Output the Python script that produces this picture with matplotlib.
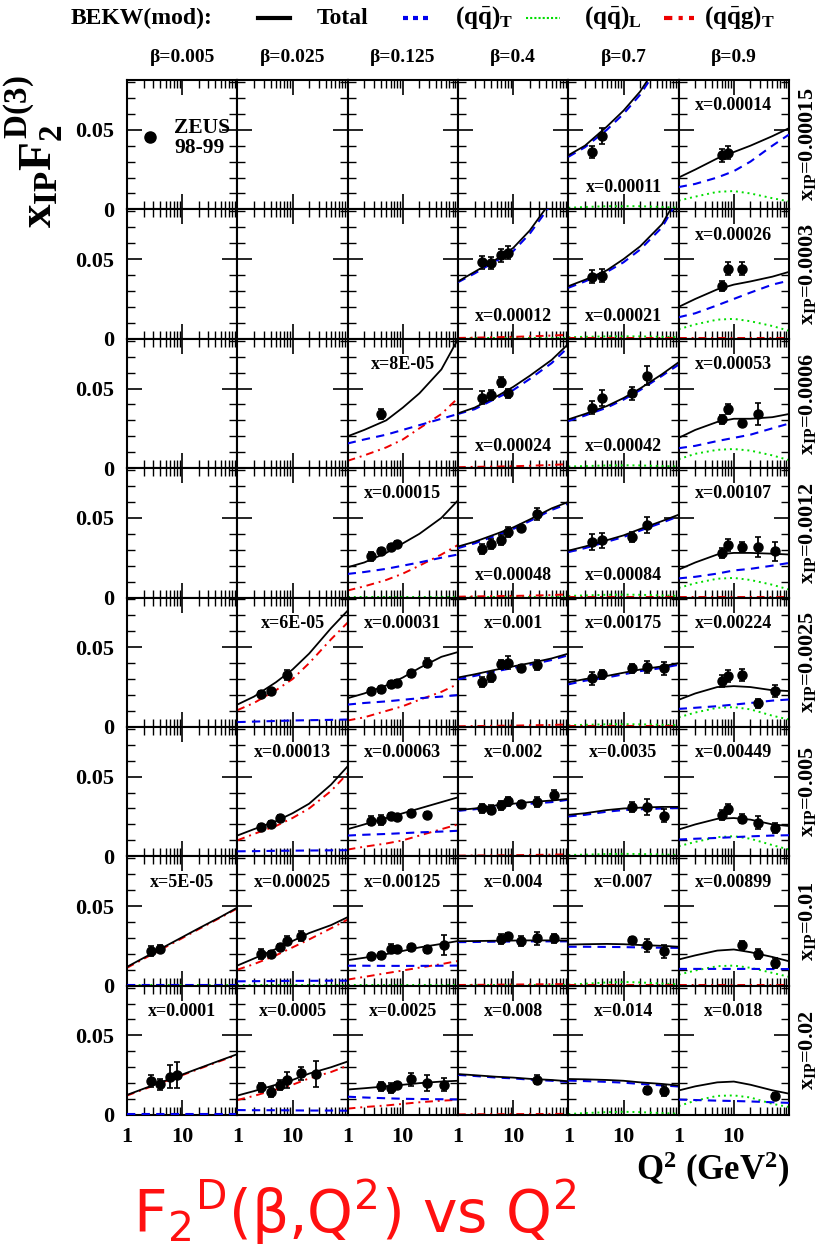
import matplotlib
matplotlib.use('Agg')
import matplotlib.pyplot as plt
from matplotlib.lines import Line2D
from matplotlib.ticker import FixedLocator, MultipleLocator, LogLocator, NullFormatter, FuncFormatter

plt.rcParams['font.family'] = ['Liberation Serif', 'DejaVu Serif']
plt.rcParams['font.weight'] = 'normal'
plt.rcParams['mathtext.fontset'] = 'custom'
plt.rcParams['mathtext.rm'] = 'Liberation Serif:bold'
plt.rcParams['mathtext.it'] = 'Liberation Serif:bold'
plt.rcParams['mathtext.bf'] = 'Liberation Serif:bold'

# ---------------- data ----------------
BETAS = ['0.005', '0.025', '0.125', '0.4', '0.7', '0.9']
XIP = ['0.00015', '0.0003', '0.0006', '0.0012', '0.0025', '0.005', '0.01', '0.02']
Q2_NODES = [1, 2, 5, 10, 20, 50, 100]

TOTAL = {
    (0, 4): [0.034, 0.040, 0.052, 0.062, 0.074, 0.095, 0.120],
    (0, 5): [0.020, 0.025, 0.032, 0.036, 0.040, 0.046, 0.051],
    (1, 3): [0.036, 0.042, 0.050, 0.057, 0.068, 0.087, 0.105],
    (1, 4): [0.033, 0.037, 0.043, 0.050, 0.058, 0.072, 0.090],
    (1, 5): [0.020, 0.025, 0.031, 0.034, 0.036, 0.039, 0.042],
    (2, 2): [0.020, 0.024, 0.030, 0.038, 0.047, 0.062, 0.081],
    (2, 3): [0.0344, 0.038, 0.045, 0.051, 0.058, 0.068, 0.078],
    (2, 4): [0.0306, 0.034, 0.039, 0.044, 0.050, 0.059, 0.0665],
    (2, 5): [0.019, 0.024, 0.029, 0.031, 0.031, 0.032, 0.034],
    (3, 2): [0.019, 0.022, 0.028, 0.034, 0.040, 0.050, 0.061],
    (3, 3): [0.032, 0.035, 0.040, 0.044, 0.049, 0.056, 0.060],
    (3, 4): [0.0294, 0.032, 0.036, 0.039, 0.043, 0.048, 0.052],
    (3, 5): [0.0175, 0.022, 0.027, 0.028, 0.028, 0.0275, 0.027],
    (4, 1): [0.014, 0.019, 0.028, 0.036, 0.046, 0.062, 0.073],
    (4, 2): [0.018, 0.021, 0.026, 0.031, 0.037, 0.044, 0.047],
    (4, 3): [0.031, 0.033, 0.036, 0.038, 0.040, 0.043, 0.046],
    (4, 4): [0.028, 0.030, 0.032, 0.034, 0.036, 0.038, 0.040],
    (4, 5): [0.017, 0.021, 0.025, 0.0256, 0.025, 0.023, 0.0225],
    (5, 1): [0.013, 0.017, 0.022, 0.027, 0.033, 0.045, 0.0565],
    (5, 2): [0.017, 0.020, 0.024, 0.027, 0.030, 0.034, 0.037],
    (5, 3): [0.029, 0.030, 0.032, 0.033, 0.034, 0.035, 0.036],
    (5, 4): [0.026, 0.027, 0.029, 0.030, 0.0305, 0.031, 0.031],
    (5, 5): [0.0168, 0.020, 0.0235, 0.024, 0.023, 0.020, 0.019],
    (6, 0): [0.0118, 0.0174, 0.0248, 0.0304, 0.036, 0.0432, 0.049],
    (6, 1): [0.0126, 0.017, 0.023, 0.028, 0.033, 0.038, 0.043],
    (6, 2): [0.016, 0.0175, 0.0198, 0.0218, 0.024, 0.0262, 0.028],
    (6, 3): [0.0279, 0.028, 0.0282, 0.0283, 0.0284, 0.0284, 0.0283],
    (6, 4): [0.0258, 0.026, 0.0262, 0.026, 0.0255, 0.025, 0.0244],
    (6, 5): [0.0164, 0.019, 0.022, 0.0227, 0.021, 0.018, 0.0153],
    (7, 0): [0.0126, 0.0165, 0.0216, 0.0254, 0.0293, 0.0344, 0.0382],
    (7, 1): [0.0122, 0.015, 0.019, 0.022, 0.026, 0.030, 0.0336],
    (7, 2): [0.016, 0.0168, 0.018, 0.019, 0.020, 0.021, 0.0215],
    (7, 3): [0.0257, 0.025, 0.024, 0.0235, 0.0227, 0.022, 0.0212],
    (7, 4): [0.0226, 0.0224, 0.022, 0.0215, 0.0205, 0.0195, 0.0185],
    (7, 5): [0.0154, 0.018, 0.0205, 0.021, 0.019, 0.0155, 0.0134],
}

QQ_T = {
    (0, 4): [0.033, 0.039, 0.050, 0.060, 0.072, 0.093, 0.117],
    (0, 5): [0.014, 0.016, 0.020, 0.024, 0.030, 0.040, 0.047],
    (1, 3): [0.0355, 0.041, 0.049, 0.055, 0.066, 0.085, 0.102],
    (1, 4): [0.032, 0.036, 0.042, 0.048, 0.056, 0.070, 0.088],
    (1, 5): [0.0135, 0.016, 0.021, 0.025, 0.029, 0.034, 0.0365],
    (2, 2): [0.0155, 0.018, 0.021, 0.024, 0.027, 0.031, 0.034],
    (2, 3): [0.034, 0.037, 0.044, 0.049, 0.056, 0.066, 0.076],
    (2, 4): [0.0296, 0.033, 0.038, 0.043, 0.049, 0.058, 0.065],
    (2, 5): [0.0125, 0.014, 0.017, 0.019, 0.021, 0.025, 0.028],
    (3, 2): [0.0148, 0.016, 0.018, 0.020, 0.022, 0.025, 0.027],
    (3, 3): [0.031, 0.034, 0.039, 0.043, 0.048, 0.055, 0.059],
    (3, 4): [0.0285, 0.031, 0.035, 0.038, 0.042, 0.047, 0.051],
    (3, 5): [0.012, 0.013, 0.015, 0.017, 0.018, 0.020, 0.0217],
    (4, 1): [0.003, 0.0033, 0.0037, 0.004, 0.0042, 0.0044, 0.0046],
    (4, 2): [0.014, 0.015, 0.016, 0.017, 0.018, 0.019, 0.020],
    (4, 3): [0.030, 0.032, 0.035, 0.037, 0.039, 0.042, 0.045],
    (4, 4): [0.0267, 0.029, 0.031, 0.033, 0.035, 0.037, 0.039],
    (4, 5): [0.0113, 0.012, 0.013, 0.014, 0.015, 0.0165, 0.0172],
    (5, 1): [0.0031, 0.0032, 0.0034, 0.0035, 0.0036, 0.0037, 0.0038],
    (5, 2): [0.013, 0.0135, 0.014, 0.0145, 0.015, 0.0155, 0.016],
    (5, 3): [0.0285, 0.0295, 0.031, 0.032, 0.033, 0.034, 0.0355],
    (5, 4): [0.025, 0.026, 0.028, 0.029, 0.0295, 0.030, 0.0304],
    (5, 5): [0.0105, 0.011, 0.0115, 0.012, 0.0125, 0.013, 0.0132],
    (6, 0): [0.0007, 0.0007, 0.0007, 0.0007, 0.0007, 0.0007, 0.0007],
    (6, 1): [0.0027, 0.0028, 0.0029, 0.003, 0.003, 0.0031, 0.0031],
    (6, 2): [0.0125, 0.0125, 0.0124, 0.0124, 0.0124, 0.0125, 0.0126],
    (6, 3): [0.0273, 0.0274, 0.0276, 0.0277, 0.0278, 0.0278, 0.0278],
    (6, 4): [0.0244, 0.0244, 0.0243, 0.0242, 0.0240, 0.0238, 0.0237],
    (6, 5): [0.0105, 0.0105, 0.0105, 0.0105, 0.0105, 0.0104, 0.0104],
    (7, 0): [0.0006, 0.0006, 0.0006, 0.0006, 0.0006, 0.0006, 0.0006],
    (7, 1): [0.0031, 0.003, 0.003, 0.0029, 0.0028, 0.0028, 0.0027],
    (7, 2): [0.0115, 0.011, 0.0105, 0.0102, 0.010, 0.0099, 0.0098],
    (7, 3): [0.0252, 0.0245, 0.0235, 0.023, 0.0222, 0.0215, 0.0207],
    (7, 4): [0.0216, 0.0213, 0.0208, 0.0203, 0.0195, 0.0186, 0.0179],
    (7, 5): [0.0097, 0.0094, 0.009, 0.0088, 0.0085, 0.008, 0.0076],
}

QQ_L = {
    (0, 4): [0.001, 0.0015, 0.002, 0.002, 0.002, 0.0015, 0.001],
    (0, 5): [0.0055, 0.008, 0.011, 0.0115, 0.010, 0.007, 0.005],
    (1, 3): [0.0002, 0.0002, 0.0002, 0.0002, 0.0002, 0.0002, 0.0002],
    (1, 4): [0.001, 0.0012, 0.0015, 0.0015, 0.0015, 0.0012, 0.001],
    (1, 5): [0.006, 0.009, 0.012, 0.0125, 0.011, 0.008, 0.005],
    (2, 2): [0.0002, 0.0002, 0.0002, 0.0002, 0.0002, 0.0002, 0.0002],
    (2, 3): [0.0002, 0.0002, 0.0002, 0.0002, 0.0002, 0.0002, 0.0002],
    (2, 4): [0.001, 0.0013, 0.0017, 0.0018, 0.0017, 0.0013, 0.001],
    (2, 5): [0.0056, 0.009, 0.0115, 0.012, 0.011, 0.008, 0.005],
    (3, 2): [0.0002, 0.0002, 0.0002, 0.0002, 0.0002, 0.0002, 0.0002],
    (3, 3): [0.0002, 0.0002, 0.0002, 0.0002, 0.0002, 0.0002, 0.0002],
    (3, 4): [0.001, 0.0013, 0.0017, 0.0018, 0.0017, 0.0013, 0.001],
    (3, 5): [0.006, 0.009, 0.0118, 0.0123, 0.011, 0.008, 0.005],
    (4, 1): [0.0002, 0.0002, 0.0002, 0.0002, 0.0002, 0.0002, 0.0002],
    (4, 2): [0.0002, 0.0002, 0.0002, 0.0002, 0.0002, 0.0002, 0.0002],
    (4, 3): [0.0002, 0.0002, 0.0002, 0.0002, 0.0002, 0.0002, 0.0002],
    (4, 4): [0.001, 0.0013, 0.0016, 0.0017, 0.0016, 0.0013, 0.001],
    (4, 5): [0.006, 0.009, 0.012, 0.0124, 0.011, 0.007, 0.0046],
    (5, 1): [0.0002, 0.0002, 0.0002, 0.0002, 0.0002, 0.0002, 0.0002],
    (5, 2): [0.0002, 0.0002, 0.0002, 0.0002, 0.0002, 0.0002, 0.0002],
    (5, 3): [0.0002, 0.0002, 0.0002, 0.0002, 0.0002, 0.0002, 0.0002],
    (5, 4): [0.0008, 0.001, 0.0014, 0.0015, 0.0014, 0.0011, 0.0008],
    (5, 5): [0.0063, 0.009, 0.012, 0.0126, 0.011, 0.007, 0.0042],
    (6, 0): [0.0002, 0.0002, 0.0002, 0.0002, 0.0002, 0.0002, 0.0002],
    (6, 1): [0.0002, 0.0002, 0.0002, 0.0002, 0.0002, 0.0002, 0.0002],
    (6, 2): [0.0002, 0.0002, 0.0002, 0.0002, 0.0002, 0.0002, 0.0002],
    (6, 3): [0.0002, 0.0002, 0.0002, 0.0002, 0.0002, 0.0002, 0.0002],
    (6, 4): [0.0006, 0.0012, 0.002, 0.0023, 0.002, 0.0013, 0.0008],
    (6, 5): [0.0069, 0.0095, 0.0122, 0.0126, 0.0112, 0.008, 0.0055],
    (7, 0): [0.0002, 0.0002, 0.0002, 0.0002, 0.0002, 0.0002, 0.0002],
    (7, 1): [0.0002, 0.0002, 0.0002, 0.0002, 0.0002, 0.0002, 0.0002],
    (7, 2): [0.0002, 0.0002, 0.0002, 0.0002, 0.0002, 0.0002, 0.0002],
    (7, 3): [0.0002, 0.0002, 0.0002, 0.0002, 0.0002, 0.0002, 0.0002],
    (7, 4): [0.0006, 0.0012, 0.0018, 0.002, 0.0018, 0.0012, 0.0008],
    (7, 5): [0.0056, 0.009, 0.012, 0.0123, 0.011, 0.007, 0.005],
}

QQG_T = {
    (0, 4): [0.0003, 0.0003, 0.0003, 0.0003, 0.0003, 0.0003, 0.0003],
    (0, 5): [0.0002, 0.0002, 0.0002, 0.0002, 0.0002, 0.0002, 0.0002],
    (1, 3): [0.0005, 0.0007, 0.001, 0.0012, 0.0015, 0.002, 0.0025],
    (1, 4): [0.0003, 0.0003, 0.0003, 0.0003, 0.0003, 0.0003, 0.0003],
    (1, 5): [0.0002, 0.0002, 0.0002, 0.0002, 0.0002, 0.0002, 0.0002],
    (2, 2): [0.0046, 0.008, 0.013, 0.018, 0.025, 0.034, 0.044],
    (2, 3): [0.0006, 0.0008, 0.001, 0.0012, 0.0015, 0.002, 0.0025],
    (2, 4): [0.0003, 0.0003, 0.0003, 0.0003, 0.0003, 0.0003, 0.0003],
    (2, 5): [0.0002, 0.0002, 0.0002, 0.0002, 0.0002, 0.0002, 0.0002],
    (3, 2): [0.0044, 0.007, 0.011, 0.015, 0.020, 0.027, 0.033],
    (3, 3): [0.0005, 0.0007, 0.0009, 0.001, 0.0012, 0.0015, 0.002],
    (3, 4): [0.0003, 0.0003, 0.0003, 0.0003, 0.0003, 0.0003, 0.0003],
    (3, 5): [0.0002, 0.0002, 0.0002, 0.0002, 0.0002, 0.0002, 0.0002],
    (4, 1): [0.0105, 0.015, 0.023, 0.030, 0.040, 0.055, 0.0655],
    (4, 2): [0.004, 0.006, 0.010, 0.013, 0.017, 0.022, 0.027],
    (4, 3): [0.0004, 0.0005, 0.0007, 0.0008, 0.001, 0.0012, 0.0015],
    (4, 4): [0.0003, 0.0003, 0.0003, 0.0003, 0.0003, 0.0003, 0.0003],
    (4, 5): [0.0002, 0.0002, 0.0002, 0.0002, 0.0002, 0.0002, 0.0002],
    (5, 1): [0.010, 0.014, 0.019, 0.024, 0.030, 0.041, 0.052],
    (5, 2): [0.0042, 0.006, 0.008, 0.010, 0.013, 0.017, 0.020],
    (5, 3): [0.0004, 0.0005, 0.0006, 0.0007, 0.0008, 0.001, 0.0012],
    (5, 4): [0.0003, 0.0003, 0.0003, 0.0003, 0.0003, 0.0003, 0.0003],
    (5, 5): [0.0002, 0.0002, 0.0002, 0.0002, 0.0002, 0.0002, 0.0002],
    (6, 0): [0.0112, 0.0168, 0.0242, 0.0298, 0.0355, 0.0428, 0.0485],
    (6, 1): [0.010, 0.0135, 0.019, 0.024, 0.029, 0.036, 0.0415],
    (6, 2): [0.0038, 0.0055, 0.0078, 0.0095, 0.0113, 0.0135, 0.0155],
    (6, 3): [0.0004, 0.0005, 0.0006, 0.0007, 0.0008, 0.0009, 0.001],
    (6, 4): [0.0003, 0.0003, 0.0003, 0.0003, 0.0003, 0.0003, 0.0003],
    (6, 5): [0.0002, 0.0002, 0.0002, 0.0002, 0.0002, 0.0002, 0.0002],
    (7, 0): [0.0122, 0.0161, 0.0212, 0.025, 0.0289, 0.034, 0.0378],
    (7, 1): [0.0094, 0.012, 0.016, 0.019, 0.023, 0.027, 0.031],
    (7, 2): [0.004, 0.005, 0.006, 0.007, 0.008, 0.009, 0.0095],
    (7, 3): [0.0004, 0.0005, 0.0005, 0.0006, 0.0006, 0.0007, 0.0007],
    (7, 4): [0.0003, 0.0003, 0.0003, 0.0003, 0.0003, 0.0003, 0.0003],
    (7, 5): [0.0002, 0.0002, 0.0002, 0.0002, 0.0002, 0.0002, 0.0002],
}

DATA_Q2 = {
    (0, 4): [2.7, 4], (0, 5): [6, 8],
    (1, 3): [2.7, 4, 6, 8], (1, 4): [2.7, 4], (1, 5): [6, 8, 14],
    (2, 2): [4], (2, 3): [2.7, 4, 6, 8], (2, 4): [2.7, 4, 14, 27], (2, 5): [6, 8, 14, 27],
    (3, 2): [2.7, 4, 6, 8], (3, 3): [2.7, 4, 6, 8, 14, 27], (3, 4): [2.7, 4, 14, 27],
    (3, 5): [6, 8, 14, 27, 55],
    (4, 1): [2.7, 4, 8], (4, 2): [2.7, 4, 6, 8, 14, 27], (4, 3): [2.7, 4, 6, 8, 14, 27],
    (4, 4): [2.7, 4, 14, 27, 55], (4, 5): [6, 8, 14, 27, 55],
    (5, 1): [2.7, 4, 6], (5, 2): [2.7, 4, 6, 8, 14, 27], (5, 3): [2.7, 4, 6, 8, 14, 27, 55],
    (5, 4): [14, 27, 55], (5, 5): [6, 8, 14, 27, 55],
    (6, 0): [2.7, 4], (6, 1): [2.7, 4, 6, 8, 14], (6, 2): [2.7, 4, 6, 8, 14, 27, 55],
    (6, 3): [6, 8, 14, 27, 55], (6, 4): [14, 27, 55], (6, 5): [14, 27, 55],
    (7, 0): [2.7, 4, 6, 8], (7, 1): [2.7, 4, 6, 8, 14, 27], (7, 2): [4, 6, 8, 14, 27, 55],
    (7, 3): [27], (7, 4): [27, 55], (7, 5): [55],
}
DATA_F2 = {
    (0, 4): [0.036, 0.046], (0, 5): [0.034, 0.0355],
    (1, 3): [0.048, 0.0475, 0.0525, 0.054], (1, 4): [0.039, 0.0396], (1, 5): [0.033, 0.044, 0.044],
    (2, 2): [0.034], (2, 3): [0.0442, 0.0458, 0.054, 0.047], (2, 4): [0.038, 0.044, 0.047, 0.058],
    (2, 5): [0.0306, 0.037, 0.0285, 0.034],
    (3, 2): [0.0258, 0.029, 0.0317, 0.0335], (3, 3): [0.0304, 0.0335, 0.036, 0.041, 0.0435, 0.0525],
    (3, 4): [0.035, 0.0358, 0.038, 0.0456], (3, 5): [0.028, 0.033, 0.0317, 0.0317, 0.029],
    (4, 1): [0.0208, 0.0223, 0.0325], (4, 2): [0.0225, 0.0235, 0.0267, 0.0277, 0.0336, 0.0403],
    (4, 3): [0.0283, 0.0313, 0.0393, 0.0403, 0.0367, 0.0388],
    (4, 4): [0.0304, 0.033, 0.0367, 0.0376, 0.0367], (4, 5): [0.0288, 0.0319, 0.0325, 0.0147, 0.0225],
    (5, 1): [0.0184, 0.0203, 0.0241], (5, 2): [0.0224, 0.0228, 0.0251, 0.0247, 0.0272, 0.0258],
    (5, 3): [0.030, 0.0293, 0.032, 0.0345, 0.033, 0.0341, 0.0387],
    (5, 4): [0.031, 0.031, 0.0255], (5, 5): [0.0258, 0.0297, 0.0237, 0.021, 0.0178],
    (6, 0): [0.0216, 0.0233], (6, 1): [0.0199, 0.0199, 0.0244, 0.0283, 0.0311],
    (6, 2): [0.0183, 0.019, 0.0232, 0.023, 0.024, 0.0228, 0.0255],
    (6, 3): [0.0294, 0.0311, 0.0279, 0.0296, 0.0296], (6, 4): [0.0286, 0.0252, 0.0216],
    (6, 5): [0.0252, 0.0199, 0.0143],
    (7, 0): [0.0214, 0.0193, 0.0241, 0.0252], (7, 1): [0.0174, 0.0143, 0.0189, 0.0218, 0.0262, 0.0258],
    (7, 2): [0.018, 0.017, 0.019, 0.0225, 0.020, 0.019],
    (7, 3): [0.0222], (7, 4): [0.0154, 0.015], (7, 5): [0.0119],
}
DATA_ERR = {
    (0, 4): [0.004, 0.005], (0, 5): [0.004, 0.004],
    (1, 3): [0.004, 0.004, 0.004, 0.004], (1, 4): [0.004, 0.004], (1, 5): [0.003, 0.004, 0.004],
    (2, 2): [0.003], (2, 3): [0.004, 0.003, 0.003, 0.003], (2, 4): [0.004, 0.005, 0.004, 0.006],
    (2, 5): [0.003, 0.003, 0.002, 0.007],
    (3, 2): [0.003, 0.002, 0.002, 0.002], (3, 3): [0.003, 0.003, 0.003, 0.003, 0.002, 0.004],
    (3, 4): [0.005, 0.005, 0.003, 0.005], (3, 5): [0.003, 0.004, 0.003, 0.006, 0.006],
    (4, 1): [0.002, 0.002, 0.003], (4, 2): [0.002, 0.002, 0.002, 0.002, 0.002, 0.003],
    (4, 3): [0.003, 0.003, 0.003, 0.004, 0.002, 0.003],
    (4, 4): [0.004, 0.003, 0.003, 0.004, 0.004], (4, 5): [0.004, 0.004, 0.004, 0.003, 0.004],
    (5, 1): [0.002, 0.002, 0.002], (5, 2): [0.003, 0.003, 0.002, 0.002, 0.002, 0.002],
    (5, 3): [0.003, 0.003, 0.003, 0.003, 0.002, 0.003, 0.003],
    (5, 4): [0.003, 0.005, 0.004], (5, 5): [0.003, 0.003, 0.003, 0.004, 0.003],
    (6, 0): [0.003, 0.002], (6, 1): [0.003, 0.002, 0.002, 0.003, 0.003],
    (6, 2): [0.002, 0.002, 0.003, 0.002, 0.002, 0.002, 0.006],
    (6, 3): [0.003, 0.002, 0.003, 0.004, 0.003], (6, 4): [0.002, 0.004, 0.004],
    (6, 5): [0.003, 0.003, 0.003],
    (7, 0): [0.004, 0.0035, 0.007, 0.008], (7, 1): [0.003, 0.003, 0.003, 0.005, 0.004, 0.008],
    (7, 2): [0.003, 0.003, 0.002, 0.004, 0.005, 0.004],
    (7, 3): [0.003], (7, 4): [0.002, 0.003], (7, 5): [0.002],
}

X_LABELS = {
    (0, 4): 'x=0.00011', (0, 5): 'x=0.00014',
    (1, 3): 'x=0.00012', (1, 4): 'x=0.00021', (1, 5): 'x=0.00026',
    (2, 2): 'x=8E-05', (2, 3): 'x=0.00024', (2, 4): 'x=0.00042', (2, 5): 'x=0.00053',
    (3, 2): 'x=0.00015', (3, 3): 'x=0.00048', (3, 4): 'x=0.00084', (3, 5): 'x=0.00107',
    (4, 1): 'x=6E-05', (4, 2): 'x=0.00031', (4, 3): 'x=0.001', (4, 4): 'x=0.00175', (4, 5): 'x=0.00224',
    (5, 1): 'x=0.00013', (5, 2): 'x=0.00063', (5, 3): 'x=0.002', (5, 4): 'x=0.0035', (5, 5): 'x=0.00449',
    (6, 0): 'x=5E-05', (6, 1): 'x=0.00025', (6, 2): 'x=0.00125', (6, 3): 'x=0.004', (6, 4): 'x=0.007',
    (6, 5): 'x=0.00899',
    (7, 0): 'x=0.0001', (7, 1): 'x=0.0005', (7, 2): 'x=0.0025', (7, 3): 'x=0.008', (7, 4): 'x=0.014',
    (7, 5): 'x=0.018',
}
LOW_LABELS = [(0, 4), (1, 3), (1, 4), (2, 3), (2, 4), (3, 3), (3, 4)]

# ---------------- layout ----------------
W, H = 823, 1246
fig = plt.figure(figsize=(W / 100, H / 100), dpi=100)
LEFT, RIGHT, TOP, BOTTOM = 127, 789, 80, 1115
NR, NC = 8, 6
cw = (RIGHT - LEFT) / NC
rh = (BOTTOM - TOP) / NR
YMAX = 0.08125
BOLD = dict(fontweight='bold', family=['Liberation Serif', 'DejaVu Serif'])

def fx(px):
    return px / W

def fy(py):
    return 1 - py / H

def xfmt(v, p):
    if abs(v - 1) < 1e-6:
        return '1'
    if abs(v - 10) < 1e-6:
        return '10'
    return ''

def yfmt(v, p):
    if abs(v) < 1e-9:
        return '0'
    if abs(v - 0.05) < 1e-9:
        return '0.05'
    return ''

for r in range(NR):
    for c in range(NC):
        ax = fig.add_axes([fx(LEFT + c * cw), fy(TOP + (r + 1) * rh), cw / W, rh / H])
        ax.set_xscale('log')
        ax.set_xlim(1, 100)
        ax.set_ylim(0, YMAX)
        ax.yaxis.set_major_locator(FixedLocator([0, 0.05]))
        ax.yaxis.set_minor_locator(MultipleLocator(0.01))
        ax.xaxis.set_major_locator(LogLocator(base=10))
        ax.xaxis.set_minor_locator(LogLocator(base=10, subs=range(2, 10)))
        ax.tick_params(which='major', direction='in', length=11, width=1.2,
                       top=True, right=True, labelsize=16, pad=9)
        ax.tick_params(which='minor', direction='in', length=5.5, width=1.0,
                       top=True, right=True)
        for sp in ax.spines.values():
            sp.set_linewidth(1.5)
        ax.xaxis.set_minor_formatter(NullFormatter())
        if r == NR - 1:
            ax.xaxis.set_major_formatter(FuncFormatter(xfmt))
        else:
            ax.xaxis.set_major_formatter(NullFormatter())
        if c == 0:
            ax.yaxis.set_major_formatter(FuncFormatter(yfmt))
        else:
            ax.yaxis.set_major_formatter(NullFormatter())
        for lab in ax.get_xticklabels() + ax.get_yticklabels():
            lab.set_fontweight('bold')

        key = (r, c)
        if key in TOTAL:
            ax.plot(Q2_NODES, QQ_L[key], color='#00dd00', lw=1.4, ls=(0, (1, 2)), zorder=2)
            ax.plot(Q2_NODES, QQG_T[key], color='#ee0000', lw=1.4, ls=(0, (4, 2.5, 1, 2.5)), zorder=2)
            ax.plot(Q2_NODES, QQ_T[key], color='#0000ee', lw=1.5, ls=(0, (4, 3)), zorder=3)
            ax.plot(Q2_NODES, TOTAL[key], color='black', lw=1.3, ls='-', zorder=4)
            ax.errorbar(DATA_Q2[key], DATA_F2[key], yerr=DATA_ERR[key], fmt='o', color='black',
                        ms=6.5, elinewidth=1.3, capsize=2.5, capthick=1.2, zorder=5)
            ypos = 0.17 if key in LOW_LABELS else 0.80
            ax.text(0.5, ypos, X_LABELS[key], transform=ax.transAxes, ha='center',
                    va='center', fontsize=13, **BOLD)
        if key == (0, 0):
            ax.plot([2.6], [0.0456], 'o', color='black', ms=8)
            ax.text(0.43, 0.55, 'ZEUS\n98-99', transform=ax.transAxes, ha='left', va='center',
                    fontsize=15.5, linespacing=1.0, **BOLD)

# column titles
for c, b in enumerate(BETAS):
    fig.text(fx(LEFT + (c + 0.5) * cw), fy(57), 'β=' + b, ha='center', va='center',
             fontsize=14, **BOLD)

# row labels
for r, xp in enumerate(XIP):
    fig.text(fx(808), fy(TOP + (r + 0.5) * rh), r'$x_{IP}$=' + xp, rotation=90,
             ha='center', va='center', fontsize=16, **BOLD)

# y label
fig.text(fx(34), fy(152), r'$x_{IP}F_2^{D(3)}$', rotation=90, ha='center', va='center',
         fontsize=34, **BOLD)

# x label
fig.text(fx(789), fy(1170), r'Q$^2$ (GeV$^2$)', ha='right', va='center',
         fontsize=25, **BOLD)

# header legend
ly = fy(18)
fig.text(fx(71), ly, 'BEKW(mod):', ha='left', va='center', fontsize=17, **BOLD)
fig.add_artist(Line2D([fx(258), fx(290)], [ly, ly], color='black', lw=3))
fig.text(fx(317), ly, 'Total', ha='left', va='center', fontsize=17, **BOLD)
fig.add_artist(Line2D([fx(403), fx(432)], [ly, ly], color='#0000ee', lw=3, ls=(0, (1.2, 1.2))))
fig.text(fx(455), ly, r'$(q\bar{q})_T$', ha='left', va='center', fontsize=18, **BOLD)
fig.add_artist(Line2D([fx(526), fx(560)], [ly, ly], color='#00dd00', lw=1.5, ls=(0, (1, 1))))
fig.text(fx(584), ly, r'$(q\bar{q})_L$', ha='left', va='center', fontsize=18, **BOLD)
fig.add_artist(Line2D([fx(664), fx(694)], [ly, ly], color='#ee0000', lw=3, ls=(0, (2, 1.5, 1, 1.5))))
fig.text(fx(704), ly, r'$(q\bar{q}g)_T$', ha='left', va='center', fontsize=18, **BOLD)

# red annotation
fig.text(fx(133), fy(1212), r'F$_2{}^\mathrm{D}$(β,Q$^2$) vs Q$^2$', ha='left', va='center',
         fontsize=42, color='#ff1010', family='DejaVu Sans', fontweight='normal',
         math_fontfamily='dejavusans')

fig.savefig('out.png', dpi=100)
